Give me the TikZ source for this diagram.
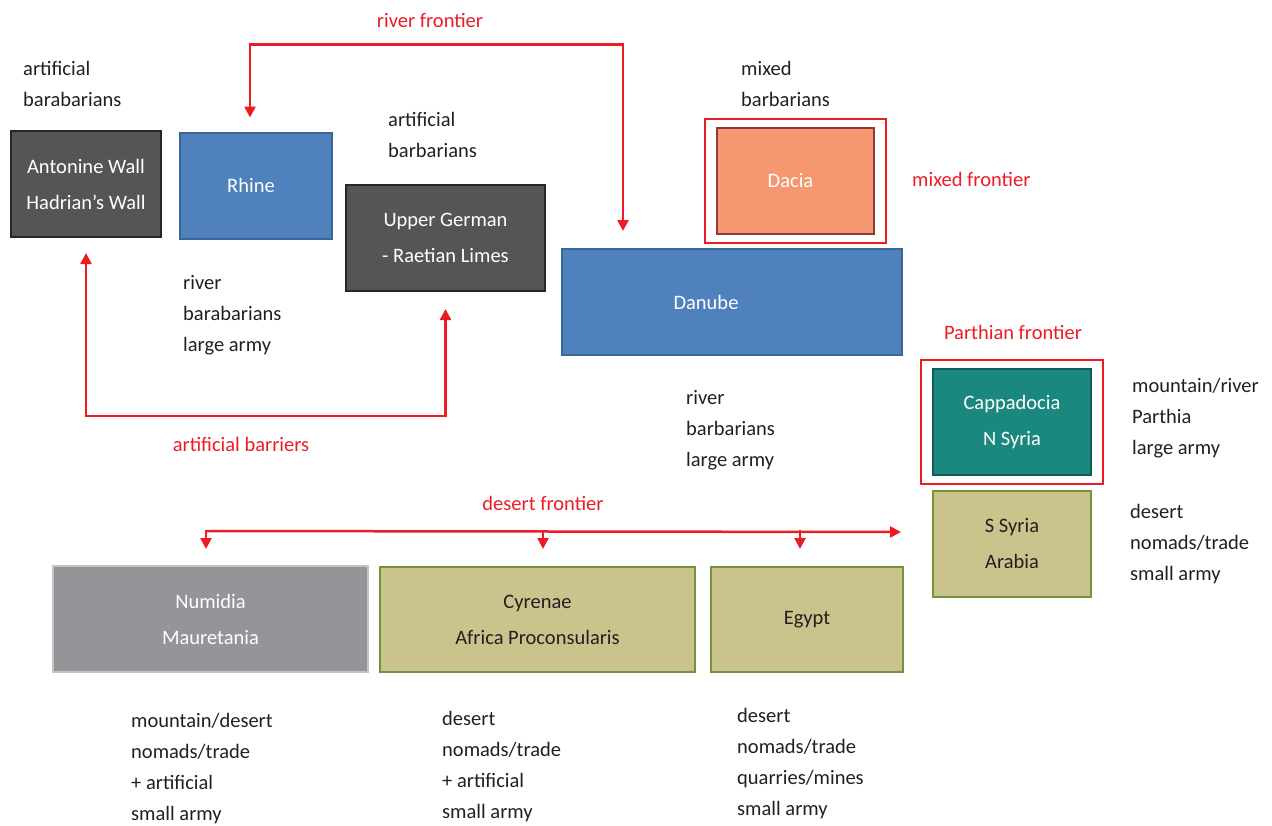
\documentclass[tikz,border=0pt]{standalone}
\usepackage{fontspec}
\setmainfont{Carlito}
\usepackage{xcolor}
\usetikzlibrary{arrows.meta,calc,fit}
\definecolor{colorWall}{HTML}{555557}
\definecolor{colorWallB}{HTML}{262626}
\definecolor{colorRiver}{HTML}{4F81BD}
\definecolor{colorRiverB}{HTML}{3A6796}
\definecolor{colorMix}{HTML}{F59770}
\definecolor{colorMixB}{HTML}{8C3B3B}
\definecolor{colorPar}{HTML}{1A887F}
\definecolor{colorParB}{HTML}{0F5C55}
\definecolor{colorDes}{HTML}{CAC38B}
\definecolor{colorDesB}{HTML}{76923C}
\definecolor{colorNum}{HTML}{939598}
\definecolor{colorNumB}{HTML}{C4C4C4}
\definecolor{colorFront}{HTML}{ED1C24}
\definecolor{colorText}{HTML}{231F20}

\begin{document}
\begin{tikzpicture}[x=1pt,y=-1pt,>={Triangle[length=11pt,width=11pt]},every node/.append style={align=center},region/.style={draw, line width=2pt, inner sep=0pt, minimum height=106pt, text=white, font=\fontsize{20.5}{36}\selectfont},frame/.style={draw=colorFront, line width=2pt, inner xsep=11pt, inner ysep=8pt},note/.style={anchor=west, align=left, inner sep=0pt, text=colorText, font=\fontsize{20.5}{31}\selectfont},tag/.style={inner sep=0pt, text=colorFront, font=\fontsize{20.5}{24}\selectfont},front/.style={colorFront, line width=2.5pt},]
    \useasboundingbox (0,0) rectangle (1272,825);
    % northern frontier
    \node [region, fill=colorWall, draw=colorWallB, minimum width=150pt] (antonine) at (86,184) {Antonine Wall\\Hadrian's Wall};
    \node [region, fill=colorRiver, draw=colorRiverB, minimum width=152pt] (rhine) at (256,185.5) {Rhine\hspace*{10pt}};
    \node [region, fill=colorWall, draw=colorWallB, minimum width=199pt] (upper) at (445.5,238) {Upper German\\- Raetian Limes};
    \node [region, fill=colorMix, draw=colorMixB, minimum width=157pt] (dacia) at (795.5,181) {Dacia\hspace*{10pt}};
    \node [frame, fit=(dacia)] (daciaframe) {};
    \node [region, fill=colorRiver, draw=colorRiverB, minimum width=340pt] (danube) at (732,302) {Danube\hspace*{52pt}};
    % eastern frontier
    \node [region, fill=colorPar, draw=colorParB, minimum width=158pt] (capp) at (1012,422) {Cappadocia\\N Syria};
    \node [frame, fit=(capp)] (cappframe) {};
    \node [region, fill=colorDes, draw=colorDesB, text=colorText, minimum width=158pt] (ssyria) at (1012,544) {S Syria\\Arabia};
    % southern frontier
    \node [region, fill=colorNum, draw=colorNumB, minimum width=315pt] (numidia) at (210.5,619) {Numidia\\Mauretania};
    \node [region, fill=colorDes, draw=colorDesB, text=colorText, minimum width=315pt, minimum height=105pt] (cyrenae) at (537.5,619.5) {Cyrenae\\Africa Proconsularis};
    \node [region, fill=colorDes, draw=colorDesB, text=colorText, minimum width=192pt, minimum height=105pt] (egypt) at (807,619.5) {Egypt};

    \node [note] (antnote) at (23,84) {artificial\\barabarians};
    \node [note] (uppnote) at (388,135) {artificial\\barbarians};
    \node [note] (dacnote) at (741,84) {mixed\\barbarians};
    \node [note] (rhinote) at (183,315) {river\\barabarians\\large army};
    \node [note] (dannote) at (686,430) {river\\barbarians\\large army};
    \node [note] (capnote) at (1132,418) {mountain/river\\Parthia\\large army};
    \node [note] (syrnote) at (1130,544) {desert\\nomads/trade\\small army};
    \node [note] (numnote) at (131,769) {mountain/desert\\nomads/trade\\+ artificial\\small army};
    \node [note] (cyrnote) at (442,767) {desert\\nomads/trade\\+ artificial\\small army};
    \node [note] (egynote) at (737,764) {desert\\nomads/trade\\quarries/mines\\small army};

    \node [tag] (rivertag) at (430,20) {river frontier};
    \node [tag, anchor=west] (mixtag) at (912,179) {mixed frontier};
    \node [tag] (parttag) at (1013,332) {Parthian frontier};
    \node [tag] (arttag) at (241,444) {artificial barriers};
    \node [tag] (desttag) at (543,503) {desert frontier};

    \draw [front, <->] ($(rhine.north)+(-6,-14)$) -- ++(0,-73) -| ($(danube.north west)+(62,-17)$);
    \draw [front, <->] ($(antonine.south)+(0,15)$) -- ++(0,163) -| ($(upper.south)+(0,17)$);
    \draw [front, ->] ($(numidia.north)+(-4.5,-34)$) -- ($(ssyria.west)+(-31,-12)$);
    \draw [front, ->] ($(numidia.north)+(-4.5,-35)$) -- ($(numidia.north)+(-4.5,-16)$);
    \draw [front, ->] ($(cyrenae.north)+(5.5,-36)$) -- ($(cyrenae.north)+(5.5,-17)$);
    \draw [front, ->] ($(egypt.north)+(-7,-36)$) -- ($(egypt.north)+(-7,-17)$);
\end{tikzpicture}
\end{document}
